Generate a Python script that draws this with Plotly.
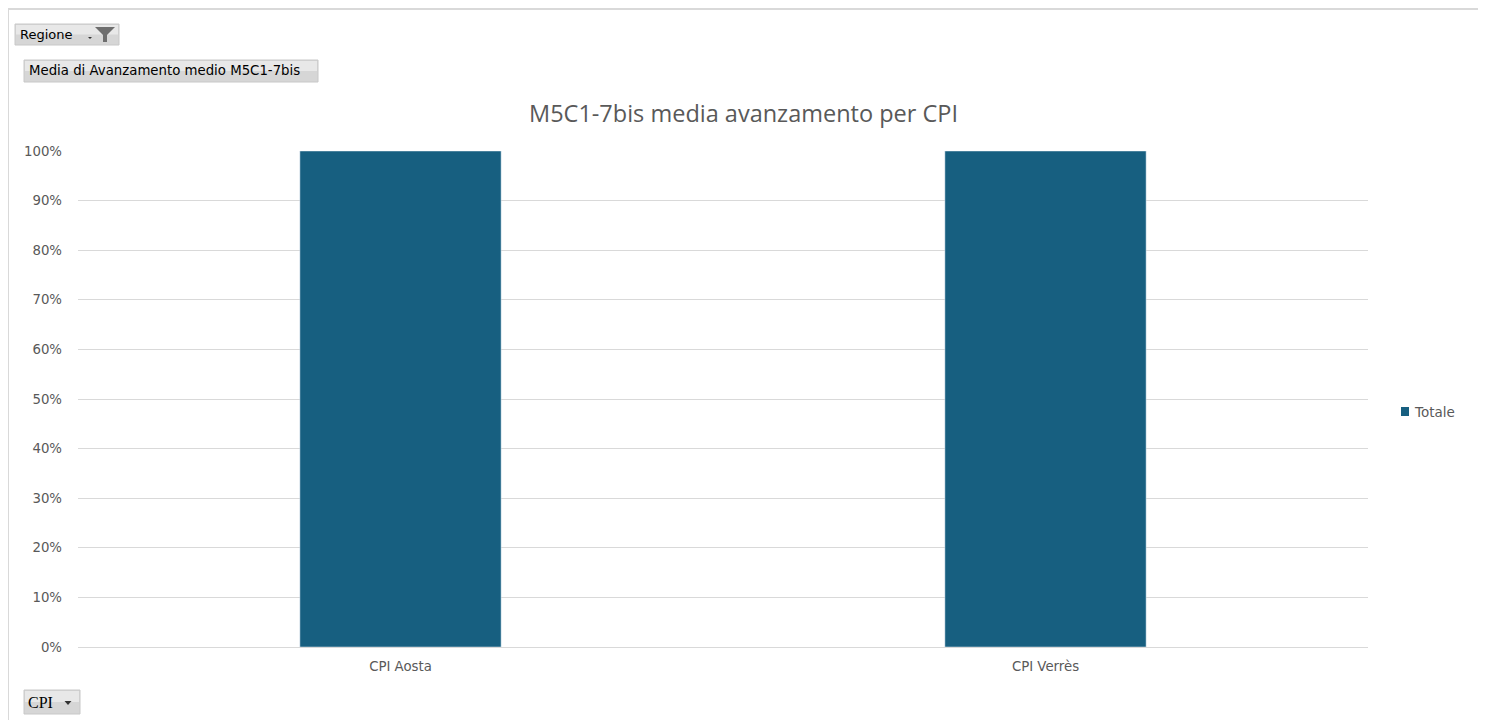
import plotly.graph_objects as go

categories = ["CPI Aosta", "CPI Verrès"]
values = [1.0, 1.0]
series_name = "Totale"
y_ticks = [0, 0.1, 0.2, 0.3, 0.4, 0.5, 0.6, 0.7, 0.8, 0.9, 1.0]
title = "M5C1-7bis media avanzamento per CPI"

W, H = 1486, 720
OFF = 8  # page body offset
L, R, T, B = 78 - OFF, 1368 - OFF, 151 - OFF, 647 - OFF
bar_color = "#175f80"
txt = "#595959"
font = "Open Sans"
tick_font = "DejaVu Sans"

fig = go.Figure()
fig.add_trace(go.Bar(x=categories, y=values, name=series_name, marker_color=bar_color,
                     width=0.312, showlegend=False))

def px(x):
    return (x - OFF - L) / (R - L)
def py(y):
    return (B - (y - OFF)) / (B - T)

shapes = []
annotations = []
# frame
for (x0, y0, x1, y1) in [(8, 9, 1481, 9), (8, 9, 8, 730), (1481, 9, 1481, 730)]:
    shapes.append(dict(type="line", xref="paper", yref="paper", x0=px(x0), y0=py(y0), x1=px(x1), y1=py(y1),
                       line=dict(color="#d9d9d9", width=2)))

# buttons
def button(x0, y0, x1, y1):
    shapes.append(dict(type="rect", xref="paper", yref="paper", x0=px(x0), y0=py(y1), x1=px(x1), y1=py(y0),
                       fillcolor="#d6d6d6", line=dict(color="#c8c8c8", width=1), layer="above"))
    shapes.append(dict(type="rect", xref="paper", yref="paper", x0=px(x0+1), y0=py(y0 + (y1-y0)*0.5), x1=px(x1-1), y1=py(y0+1),
                       fillcolor="#e8e8e8", line=dict(width=0), layer="above"))

button(15, 24, 119, 45)
button(24, 60, 318, 82)
button(24, 690, 80, 714)

annotations.append(dict(x=px(18), y=py(34), xref="paper", yref="paper", text="Regione", showarrow=False,
                        xanchor="left", yanchor="middle", font=dict(family="DejaVu Sans", size=13, color="#000000")))
annotations.append(dict(x=px(27), y=py(71), xref="paper", yref="paper", text="Media di Avanzamento medio M5C1-7bis",
                        showarrow=False, xanchor="left", yanchor="middle",
                        font=dict(family="DejaVu Sans", size=13.3, color="#000000")))
annotations.append(dict(x=px(26), y=py(702), xref="paper", yref="paper", text="CPI", showarrow=False,
                        xanchor="left", yanchor="middle", font=dict(family="Liberation Serif", size=16, color="#000000")))
# dropdown arrows
def tri(cx, cy, w, h):
    x0, x1 = px(cx - w/2), px(cx + w/2)
    shapes.append(dict(type="path", xref="paper", yref="paper",
                       path=f"M {x0} {py(cy - h/2)} L {x1} {py(cy - h/2)} L {px(cx)} {py(cy + h/2)} Z",
                       fillcolor="#333333", line=dict(width=0), layer="above"))
tri(68, 703, 7, 4)
tri(90, 38, 4, 2)
# funnel icon
shapes.append(dict(type="path", xref="paper", yref="paper",
                   path=(f"M {px(95)} {py(27)} L {px(115)} {py(27)} L {px(107)} {py(35)} L {px(107)} {py(42)} "
                         f"L {px(103)} {py(42)} L {px(103)} {py(35)} Z"),
                   fillcolor="#6e6e6e", line=dict(width=0), layer="above"))

# title
annotations.append(dict(x=px(743), y=py(113), xref="paper", yref="paper", text=title, showarrow=False,
                        xanchor="center", yanchor="middle", font=dict(family=font, size=23.5, color=txt)))
# legend
shapes.append(dict(type="rect", xref="paper", yref="paper", x0=px(1401), y0=py(416), x1=px(1409), y1=py(407),
                   fillcolor=bar_color, line=dict(width=0)))
annotations.append(dict(x=px(1412), y=py(412), xref="paper", yref="paper", text=series_name, showarrow=False,
                        xanchor="left", yanchor="middle", font=dict(family=tick_font, size=13.5, color=txt)))

fig.update_layout(
    width=W, height=H,
    margin=dict(l=L, r=W - R, t=T, b=H - B),
    paper_bgcolor="white", plot_bgcolor="white",
    shapes=shapes, annotations=annotations,
    xaxis=dict(showgrid=False, showline=True, linecolor="#d9d9d9", linewidth=1, ticks="",
               ticklabelstandoff=7,
               tickfont=dict(family=tick_font, size=13.3, color=txt), fixedrange=True),
    yaxis=dict(range=[0, 1.0], tickvals=y_ticks, tickformat=".0%", showgrid=True, gridcolor="#d9d9d9",
               gridwidth=1, zeroline=False, showline=False, ticks="", ticklabelstandoff=15,
               tickfont=dict(family=tick_font, size=13.3, color=txt)),
    showlegend=False,
)
fig.write_html("out.html")
